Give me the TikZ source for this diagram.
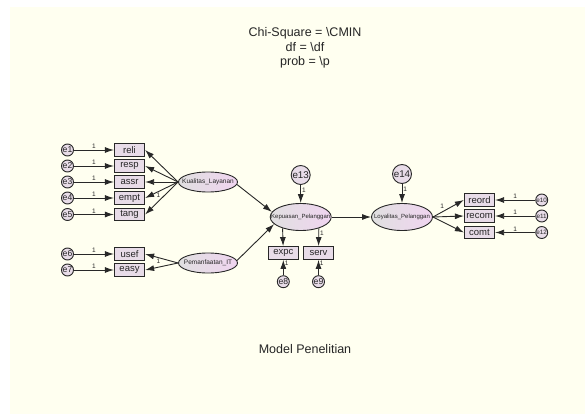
\documentclass[tikz,border=0pt]{standalone}
\usepackage{fontspec}
\setmainfont{Liberation Sans}
\usetikzlibrary{arrows.meta,shapes.geometric}

\definecolor{cream}{RGB}{255,255,240}
\definecolor{boxfill}{RGB}{232,220,232}
\definecolor{latleft}{RGB}{224,224,224}
\definecolor{latright}{RGB}{240,212,240}
\definecolor{edgegray}{RGB}{40,40,40}

\newcommand{\latname}[1]{\makebox[0pt]{#1}}

\tikzset{
  obs/.style={draw=edgegray,line width=1.3pt,fill=boxfill,minimum width=30pt,
    minimum height=12.5pt,inner sep=0pt,text=black!85,font=\fontsize{9.5}{9.5}\selectfont},
  lat/.style={ellipse,draw=edgegray,line width=0.9pt,left color=latleft,right color=latright,
    inner sep=0pt,text=black!85,minimum width=59pt,minimum height=20pt,font=\fontsize{6.5}{6.5}\selectfont},
  latbig/.style={lat,minimum width=61pt,minimum height=27pt,font=\fontsize{6}{6}\selectfont},
  err/.style={circle,draw=edgegray,line width=0.9pt,fill=boxfill,minimum size=12pt,
    inner sep=0pt,text=black!85,font=\fontsize{8.6}{8.6}\selectfont},
  errbig/.style={err,minimum size=19pt,font=\fontsize{9.8}{9.8}\selectfont},
  reg/.style={draw=edgegray,line width=0.9pt,-{Latex[length=9pt,width=6pt]}},
  one/.style={font=\fontsize{6.5}{6.5}\selectfont,inner sep=1pt,text=black!85}
}

\begin{document}
\begin{tikzpicture}[x=1pt,y=-1pt]
\useasboundingbox (0,0) rectangle (585,414);
\fill[cream] (10,7) rectangle (585,414);

\node[align=center,text=black!85,font=\fontsize{12.5}{14.5}\selectfont] (chi) at (305,48)
  {Chi-Square = \textbackslash CMIN\\df = \textbackslash df\\prob = \textbackslash p};

% left indicators
\node[obs] (reli) at (129.5,150) {reli};
\node[obs] (resp) at (129.5,166) {resp};
\node[obs] (assr) at (129.5,182) {assr};
\node[obs] (empt) at (129.5,198) {empt};
\node[obs] (tang) at (129.5,214.5) {tang};
\node[obs] (usef) at (129.5,254) {usef};
\node[obs] (easy) at (129.5,270) {easy};
\node[err] (e1) at (67.5,150) {e1};
\node[err] (e2) at (67.5,166) {e2};
\node[err] (e3) at (67.5,182) {e3};
\node[err] (e4) at (67.5,198) {e4};
\node[err] (e5) at (67.5,214.5) {e5};
\node[err] (e6) at (67.5,254) {e6};
\node[err] (e7) at (67.5,270) {e7};

% latent variables
\node[lat] (kl) at (208,182) {\latname{Kualitas\_Layanan}};
\node[lat] (pm) at (208,263) {\latname{Pemanfaatan\_IT}};
\node[latbig] (kp) at (300.7,217) {\latname{Kepuasan\_Pelanggan}};
\node[latbig] (ly) at (402,217) {\latname{Loyalitas\_Pelanggan}};
\node[errbig] (e13) at (300.7,175) {e13};
\node[errbig] (e14) at (402,174) {e14};

% middle and right indicators
\node[obs] (expc) at (283.3,253) {expc};
\node[obs] (serv) at (318.5,253) {serv};
\node[err] (e8) at (283.3,281.7) {e8};
\node[err] (e9) at (318.5,281.7) {e9};
\node[obs] (reord) at (479.5,200) {reord};
\node[obs] (recom) at (479.5,216) {recom};
\node[obs] (comt) at (479.5,232.5) {comt};
\node[err,font=\fontsize{6.3}{6.3}\selectfont] (e10) at (541.7,200) {e10};
\node[err,font=\fontsize{6.3}{6.3}\selectfont] (e11) at (541.7,216) {e11};
\node[err,font=\fontsize{6.3}{6.3}\selectfont] (e12) at (541.7,232.5) {e12};

\draw[reg] (e1) -- node[one,above]{1} (reli);
\draw[reg] (e2) -- node[one,above]{1} (resp);
\draw[reg] (e3) -- node[one,above]{1} (assr);
\draw[reg] (e4) -- node[one,above]{1} (empt);
\draw[reg] (e5) -- node[one,above]{1} (tang);
\draw[reg] (e6) -- node[one,above]{1} (usef);
\draw[reg] (e7) -- node[one,above]{1} (easy);

\draw[reg] (kl.west) -- (reli.east);
\draw[reg] (kl.west) -- (resp.east);
\draw[reg] (kl.west) -- (assr.east);
\draw[reg] (kl.west) -- node[one,pos=0.6,below]{1} (empt.east);
\draw[reg] (kl.west) -- (tang.east);
\draw[reg] (pm.west) -- node[one,pos=0.6,below]{1} (usef.east);
\draw[reg] (pm.west) -- (easy.east);

\draw[reg] (kl.-5) -- (kp.170);
\draw[reg] (pm.5) -- (kp.195);
\draw[reg] (kp) -- (ly);
\draw[reg] (e13) -- node[one,pos=0.3,right]{1} (kp);
\draw[reg] (e14) -- node[one,pos=0.3,right]{1} (ly);

\draw[reg] (kp.212) -- (expc);
\draw[reg] (kp.328) -- node[one,pos=0.3,right]{1} (serv);
\draw[reg] (e8) -- node[one,pos=0.75,right]{1} (expc);
\draw[reg] (e9) -- node[one,pos=0.75,right]{1} (serv);

\draw[reg] (ly.east) -- node[one,pos=0.4,above left]{1} (reord.west);
\draw[reg] (ly.east) -- (recom.west);
\draw[reg] (ly.east) -- (comt.west);
\draw[reg] (e10) -- node[one,above]{1} (reord);
\draw[reg] (e11) -- node[one,above]{1} (recom);
\draw[reg] (e12) -- node[one,above]{1} (comt);

\node[text=black!85,font=\fontsize{12.5}{12.5}\selectfont] (cap) at (305,349) {Model Penelitian};
\end{tikzpicture}
\end{document}
